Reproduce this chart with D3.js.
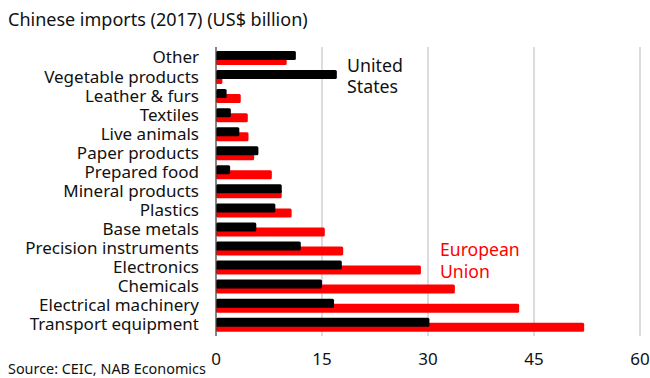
<!DOCTYPE html>
<html><head><meta charset="utf-8">
<script src="https://cdn.jsdelivr.net/npm/d3@7"></script>
<style>body{margin:0;background:#fff}svg{display:block;font-family:"Noto Sans",sans-serif}</style>
</head><body>
<svg id="c" width="650" height="378"></svg>
<script>
const categories = ["Other","Vegetable products","Leather & furs","Textiles","Live animals","Paper products","Prepared food","Mineral products","Plastics","Base metals","Precision instruments","Electronics","Chemicals","Electrical machinery","Transport equipment"];
const usValues = [11.3,17.1,1.5,2.1,3.3,6.0,2.0,9.3,8.4,5.7,12.0,17.8,15.0,16.7,30.2];
const euValues = [10.0,0.9,3.5,4.5,4.6,5.4,7.9,9.3,10.7,15.4,18.0,29.0,33.8,42.9,52.1];
const xTicks = [0,15,30,45,60];

const svg = d3.select("#c");
const x = d3.scaleLinear().domain([0,60]).range([216,640]);
const y = d3.scaleBand().domain(categories).range([48.5,334.2]).padding(0);

// gridlines
svg.append("g").selectAll("line").data(xTicks.slice(1)).join("line")
  .attr("x1",d=>x(d)).attr("x2",d=>x(d)).attr("y1",47).attr("y2",336)
  .attr("stroke","#c6c9cd").attr("stroke-width",1.3);

const c = d => y(d) + y.bandwidth()/2;
// EU bars (red) below
svg.append("g").selectAll("rect").data(categories).join("rect")
  .attr("x",x(0)).attr("y",(d)=>c(d)-2).attr("height",9)
  .attr("width",(d,i)=>x(euValues[i])-x(0)).attr("rx",1.5)
  .attr("fill","#ff0000");
// US bars (black) on top
svg.append("g").selectAll("rect").data(categories).join("rect")
  .attr("x",x(0)).attr("y",(d)=>c(d)-7).attr("height",9)
  .attr("width",(d,i)=>x(usValues[i])-x(0)).attr("rx",1.5)
  .attr("fill","#000");

// y axis line
svg.append("line").attr("x1",216).attr("x2",216).attr("y1",47).attr("y2",336)
  .attr("stroke","#444").attr("stroke-width",1.3);

// category labels
const yAxis = d3.axisLeft(y).tickSize(0).tickPadding(17);
const ga = svg.append("g").attr("transform","translate(216,0)").call(yAxis);
ga.select(".domain").remove();
ga.selectAll("text").attr("font-size",17).attr("fill","#111").attr("font-family","Noto Sans");

// x tick labels
svg.append("g").selectAll("text").data(xTicks).join("text")
  .attr("x",d=>x(d)).attr("y",365).attr("text-anchor","middle")
  .attr("font-size",17).attr("fill","#111").text(d=>d);

svg.append("text").attr("x",8).attr("y",26).attr("font-size",18).attr("fill","#111")
  .text("Chinese imports (2017) (US$ billion)");
svg.append("text").attr("x",8).attr("y",373.5).attr("font-size",14.4).attr("fill","#111")
  .text("Source: CEIC, NAB Economics");

const us = svg.append("text").attr("x",347).attr("font-size",17.8).attr("fill","#111");
us.append("tspan").attr("x",347).attr("y",72).text("United");
us.append("tspan").attr("x",347).attr("y",93).text("States");
const eu = svg.append("text").attr("x",440).attr("font-size",17.6).attr("fill","#ff0000");
eu.append("tspan").attr("x",440).attr("y",256).text("European");
eu.append("tspan").attr("x",440).attr("y",278).text("Union");
</script>
</body></html>
